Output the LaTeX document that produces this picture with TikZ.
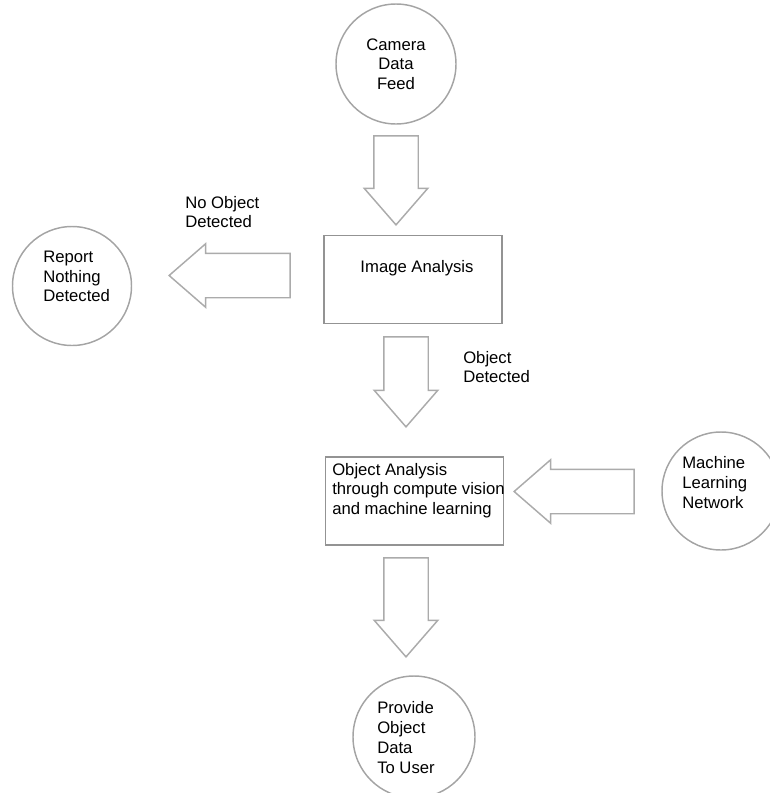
\documentclass[tikz,border=0pt]{standalone}
\usepackage{fontspec}
\setmainfont{Liberation Sans}
\usetikzlibrary{shapes.arrows}

\definecolor{cgray}{HTML}{A4A4A4}
\definecolor{bgray}{HTML}{939393}
\definecolor{agray}{HTML}{ABABAB}

\begin{document}
\begin{tikzpicture}[
  x=0.75pt, y=-0.75pt,
  font=\fontsize{12.5}{14.8}\selectfont,
  circ/.style={circle, draw=cgray, line width=1.1pt, minimum size=#1*0.75pt, inner sep=0},
  box/.style={draw=bgray, line width=1.1pt, minimum width=178*0.75pt, minimum height=88*0.75pt, inner sep=0},
  txt/.style={inner sep=0, align=left, anchor=west},
  barrow/.style={single arrow, draw=agray, line width=1.1pt, inner sep=21.5*0.75pt,
    single arrow head extend=9.5*0.75pt,
    single arrow tip angle=82, minimum height=#1*0.75pt}]
\useasboundingbox (0,0) rectangle (770,793);

% shapes
\node[circ=120, align=center] (cam) at (396,64) {Camera\\Data\\Feed};
\node[box] (ia) at (413,279.5) {};
\node[circ=119] (rep) at (72,286) {};
\node[box] (oa) at (414.5,501) {};
\node[circ=118] (ml) at (721,491) {};
\node[circ=122] (out) at (414,737) {};

% texts
\node[txt, anchor=center] (ia-t) at (417,268) {Image Analysis};
\node[txt] (rep-t) at (43,276.5) {Report\\Nothing\\Detected};
\node[txt] (oa-t) at (332,490.5) {Object Analysis\\through compute vision\\and machine learning};
\node[txt] (ml-t) at (682,482.5) {Machine\\Learning\\Network};
\node[txt] (out-t) at (377,737.5) {Provide\\Object\\Data\\To User};
\node[txt] (no-t) at (185,212) {No Object\\Detected};
\node[txt] (yes-t) at (463,367) {Object\\Detected};

% block arrows
\node[barrow=89, shape border rotate=270, anchor=tip] (a1) at (396,226) {};
\node[barrow=121, shape border rotate=180, anchor=tip] (a2) at (168,275.5) {};
\node[barrow=90, shape border rotate=270, anchor=tip] (a3) at (406,428) {};
\node[barrow=120, shape border rotate=180, anchor=tip] (a4) at (513,491.5) {};
\node[barrow=99, shape border rotate=270, anchor=tip] (a5) at (406,658) {};
\end{tikzpicture}
\end{document}
